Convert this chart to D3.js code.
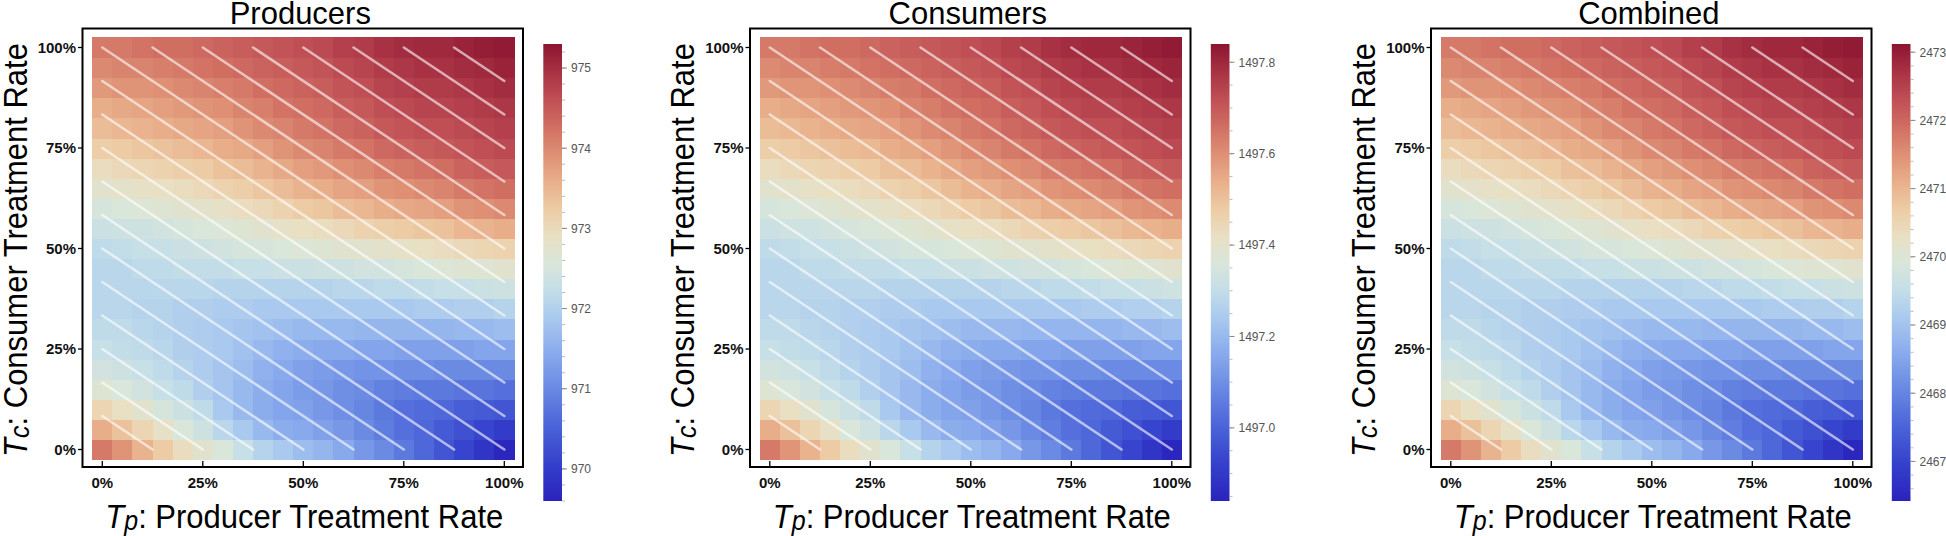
<!DOCTYPE html>
<html><head><meta charset="utf-8">
<script src="https://cdn.jsdelivr.net/npm/d3@7"></script>
<style>html,body{margin:0;padding:0;background:#fff;} svg{display:block;font-family:"Liberation Sans",Arial,sans-serif;}</style>
</head><body><svg id="chart" width="1946" height="536"></svg>
<script>
// Treatment-rate levels (columns = producer rate Tp, rows = consumer rate Tc)
const tpLevels = [0,0.05,0.1,0.15,0.2,0.25,0.3,0.35,0.4,0.45,0.5,0.55,0.6,0.65,0.7,0.75,0.8,0.85,0.9,0.95,1];
const tcLevels = [0,0.05,0.1,0.15,0.2,0.25,0.3,0.35,0.4,0.45,0.5,0.55,0.6,0.65,0.7,0.75,0.8,0.85,0.9,0.95,1];
const axisTicks = [0,0.25,0.5,0.75,1];
const axisTickLabels = ["0%","25%","50%","75%","100%"];
// iso-lines 3*Tc + 2*Tp = level
const budgetLevels = [0.25,0.5,0.75,1,1.25,1.5,1.75,2,2.25,2.5,2.75,3,3.25,3.5,3.75,4,4.25,4.5,4.75];
const panelTitles = ["Producers","Consumers","Combined"];

// rows: Tc = 0% ... 100%; columns: Tp = 0% ... 100%
const producersValues = [
[974.16,973.88,973.53,973.25,972.96,972.74,972.56,972.28,972.05,971.88,971.71,971.60,971.42,971.20,971.03,970.80,970.57,970.34,970.11,969.89,969.66],
[973.59,973.36,973.08,972.85,972.56,972.39,972.11,971.88,971.65,971.48,971.42,971.31,971.20,971.03,970.85,970.68,970.57,970.40,970.28,970.11,970.00],
[973.08,972.91,972.74,972.51,972.34,972.17,971.88,971.65,971.48,971.37,971.31,971.20,971.08,970.97,970.80,970.68,970.63,970.57,970.46,970.40,970.34],
[972.68,972.56,972.45,972.28,972.17,971.99,971.82,971.65,971.48,971.37,971.25,971.20,971.08,971.03,970.91,970.85,970.80,970.80,970.74,970.74,970.68],
[972.45,972.39,972.28,972.17,972.05,971.94,971.82,971.71,971.54,971.42,971.31,971.25,971.20,971.14,971.14,971.08,971.08,971.03,971.03,971.03,971.03],
[972.28,972.22,972.17,972.11,971.99,971.94,971.88,971.77,971.65,971.54,971.48,971.42,971.42,971.37,971.37,971.31,971.31,971.31,971.31,971.37,971.37],
[972.17,972.17,972.11,972.05,971.99,971.94,971.88,971.82,971.77,971.71,971.65,971.65,971.65,971.60,971.60,971.60,971.60,971.60,971.65,971.65,971.71],
[972.11,972.11,972.05,972.05,971.99,971.99,971.94,971.94,971.88,971.88,971.88,971.88,971.88,971.88,971.88,971.88,971.94,971.94,971.99,971.99,972.05],
[972.11,972.11,972.11,972.11,972.11,972.11,972.05,972.05,972.05,972.05,972.05,972.05,972.11,972.11,972.17,972.17,972.22,972.28,972.28,972.34,972.39],
[972.11,972.11,972.17,972.17,972.22,972.22,972.22,972.28,972.28,972.34,972.34,972.39,972.39,972.45,972.45,972.51,972.56,972.62,972.68,972.68,972.74],
[972.17,972.22,972.28,972.28,972.34,972.39,972.45,972.51,972.51,972.56,972.62,972.68,972.74,972.74,972.79,972.85,972.91,972.96,973.02,973.08,973.13],
[972.34,972.39,972.39,972.45,972.51,972.56,972.62,972.68,972.74,972.85,972.91,972.96,973.02,973.13,973.19,973.25,973.31,973.36,973.48,973.53,973.59],
[972.51,972.56,972.62,972.68,972.74,972.79,972.85,972.96,973.02,973.13,973.25,973.31,973.42,973.48,973.59,973.65,973.70,973.76,973.88,973.93,973.99],
[972.74,972.79,972.85,972.91,972.96,973.02,973.13,973.19,973.31,973.42,973.53,973.59,973.70,973.76,973.88,973.93,973.99,974.05,974.16,974.22,974.27],
[972.96,973.02,973.08,973.13,973.19,973.25,973.36,973.42,973.53,973.65,973.76,973.82,973.93,973.99,974.10,974.16,974.22,974.27,974.39,974.45,974.50],
[973.19,973.25,973.31,973.36,973.42,973.48,973.59,973.65,973.76,973.88,973.99,974.05,974.16,974.22,974.33,974.39,974.45,974.50,974.56,974.62,974.67],
[973.42,973.48,973.53,973.59,973.65,973.70,973.76,973.88,973.99,974.05,974.16,974.22,974.33,974.39,974.50,974.56,974.62,974.62,974.67,974.73,974.79],
[973.59,973.65,973.70,973.76,973.82,973.88,973.93,974.05,974.10,974.22,974.27,974.33,974.45,974.50,974.62,974.67,974.73,974.73,974.79,974.84,974.90],
[973.82,973.88,973.88,973.93,973.99,974.05,974.10,974.16,974.27,974.33,974.39,974.45,974.56,974.62,974.73,974.79,974.84,974.84,974.90,974.96,975.02],
[973.99,974.05,974.05,974.10,974.16,974.22,974.27,974.33,974.39,974.45,974.50,974.56,974.67,974.73,974.84,974.90,974.96,974.96,975.02,975.07,975.13],
[974.16,974.16,974.22,974.27,974.27,974.33,974.39,974.45,974.50,974.56,974.62,974.67,974.79,974.84,974.96,975.02,975.07,975.07,975.13,975.19,975.24]
];
const consumersValues = [
[1497.64,1497.59,1497.53,1497.48,1497.43,1497.39,1497.36,1497.31,1497.27,1497.24,1497.21,1497.19,1497.16,1497.12,1497.09,1497.05,1497.01,1496.97,1496.93,1496.89,1496.85],
[1497.54,1497.50,1497.45,1497.41,1497.36,1497.33,1497.28,1497.24,1497.20,1497.17,1497.16,1497.14,1497.12,1497.09,1497.06,1497.03,1497.01,1496.98,1496.96,1496.93,1496.91],
[1497.45,1497.42,1497.39,1497.35,1497.32,1497.29,1497.24,1497.20,1497.17,1497.15,1497.14,1497.12,1497.10,1497.08,1497.05,1497.03,1497.02,1497.01,1496.99,1496.98,1496.97],
[1497.38,1497.36,1497.34,1497.31,1497.29,1497.26,1497.23,1497.20,1497.17,1497.15,1497.13,1497.12,1497.10,1497.09,1497.07,1497.06,1497.05,1497.05,1497.04,1497.04,1497.03],
[1497.34,1497.33,1497.31,1497.29,1497.27,1497.25,1497.23,1497.21,1497.18,1497.16,1497.14,1497.13,1497.12,1497.11,1497.11,1497.10,1497.10,1497.09,1497.09,1497.09,1497.09],
[1497.31,1497.30,1497.29,1497.28,1497.26,1497.25,1497.24,1497.22,1497.20,1497.18,1497.17,1497.16,1497.16,1497.15,1497.15,1497.14,1497.14,1497.14,1497.14,1497.15,1497.15],
[1497.29,1497.29,1497.28,1497.27,1497.26,1497.25,1497.24,1497.23,1497.22,1497.21,1497.20,1497.20,1497.20,1497.19,1497.19,1497.19,1497.19,1497.19,1497.20,1497.20,1497.21],
[1497.28,1497.28,1497.27,1497.27,1497.26,1497.26,1497.25,1497.25,1497.24,1497.24,1497.24,1497.24,1497.24,1497.24,1497.24,1497.24,1497.25,1497.25,1497.26,1497.26,1497.27],
[1497.28,1497.28,1497.28,1497.28,1497.28,1497.28,1497.27,1497.27,1497.27,1497.27,1497.27,1497.27,1497.28,1497.28,1497.29,1497.29,1497.30,1497.31,1497.31,1497.32,1497.33],
[1497.28,1497.28,1497.29,1497.29,1497.30,1497.30,1497.30,1497.31,1497.31,1497.32,1497.32,1497.33,1497.33,1497.34,1497.34,1497.35,1497.36,1497.37,1497.38,1497.38,1497.39],
[1497.29,1497.30,1497.31,1497.31,1497.32,1497.33,1497.34,1497.35,1497.35,1497.36,1497.37,1497.38,1497.39,1497.39,1497.40,1497.41,1497.42,1497.43,1497.44,1497.45,1497.46],
[1497.32,1497.33,1497.33,1497.34,1497.35,1497.36,1497.37,1497.38,1497.39,1497.41,1497.42,1497.43,1497.44,1497.46,1497.47,1497.48,1497.49,1497.50,1497.52,1497.53,1497.54],
[1497.35,1497.36,1497.37,1497.38,1497.39,1497.40,1497.41,1497.43,1497.44,1497.46,1497.48,1497.49,1497.51,1497.52,1497.54,1497.55,1497.56,1497.57,1497.59,1497.60,1497.61],
[1497.39,1497.40,1497.41,1497.42,1497.43,1497.44,1497.46,1497.47,1497.49,1497.51,1497.53,1497.54,1497.56,1497.57,1497.59,1497.60,1497.61,1497.62,1497.64,1497.65,1497.66],
[1497.43,1497.44,1497.45,1497.46,1497.47,1497.48,1497.50,1497.51,1497.53,1497.55,1497.57,1497.58,1497.60,1497.61,1497.63,1497.64,1497.65,1497.66,1497.68,1497.69,1497.70],
[1497.47,1497.48,1497.49,1497.50,1497.51,1497.52,1497.54,1497.55,1497.57,1497.59,1497.61,1497.62,1497.64,1497.65,1497.67,1497.68,1497.69,1497.70,1497.71,1497.72,1497.73],
[1497.51,1497.52,1497.53,1497.54,1497.55,1497.56,1497.57,1497.59,1497.61,1497.62,1497.64,1497.65,1497.67,1497.68,1497.70,1497.71,1497.72,1497.72,1497.73,1497.74,1497.75],
[1497.54,1497.55,1497.56,1497.57,1497.58,1497.59,1497.60,1497.62,1497.63,1497.65,1497.66,1497.67,1497.69,1497.70,1497.72,1497.73,1497.74,1497.74,1497.75,1497.76,1497.77],
[1497.58,1497.59,1497.59,1497.60,1497.61,1497.62,1497.63,1497.64,1497.66,1497.67,1497.68,1497.69,1497.71,1497.72,1497.74,1497.75,1497.76,1497.76,1497.77,1497.78,1497.79],
[1497.61,1497.62,1497.62,1497.63,1497.64,1497.65,1497.66,1497.67,1497.68,1497.69,1497.70,1497.71,1497.73,1497.74,1497.76,1497.77,1497.78,1497.78,1497.79,1497.80,1497.81],
[1497.64,1497.64,1497.65,1497.66,1497.66,1497.67,1497.68,1497.69,1497.70,1497.71,1497.72,1497.73,1497.75,1497.76,1497.78,1497.79,1497.80,1497.80,1497.81,1497.82,1497.83]
];
const combinedValues = [
[2471.78,2471.45,2471.04,2470.71,2470.37,2470.11,2469.90,2469.57,2469.30,2469.10,2468.90,2468.77,2468.56,2468.30,2468.10,2467.83,2467.56,2467.29,2467.02,2466.76,2466.49],
[2471.11,2470.84,2470.51,2470.24,2469.90,2469.70,2469.37,2469.10,2468.83,2468.63,2468.56,2468.43,2468.30,2468.10,2467.89,2467.69,2467.56,2467.36,2467.22,2467.02,2466.89],
[2470.51,2470.31,2470.11,2469.84,2469.64,2469.44,2469.10,2468.83,2468.63,2468.50,2468.43,2468.30,2468.16,2468.03,2467.83,2467.69,2467.63,2467.56,2467.43,2467.36,2467.29],
[2470.04,2469.90,2469.77,2469.57,2469.44,2469.23,2469.03,2468.83,2468.63,2468.50,2468.36,2468.30,2468.16,2468.10,2467.96,2467.89,2467.83,2467.83,2467.76,2467.76,2467.69],
[2469.77,2469.70,2469.57,2469.44,2469.30,2469.17,2469.03,2468.90,2468.70,2468.56,2468.43,2468.36,2468.30,2468.23,2468.23,2468.16,2468.16,2468.10,2468.10,2468.10,2468.10],
[2469.57,2469.50,2469.44,2469.37,2469.23,2469.17,2469.10,2468.97,2468.83,2468.70,2468.63,2468.56,2468.56,2468.50,2468.50,2468.43,2468.43,2468.43,2468.43,2468.50,2468.50],
[2469.44,2469.44,2469.37,2469.30,2469.23,2469.17,2469.10,2469.03,2468.97,2468.90,2468.83,2468.83,2468.83,2468.77,2468.77,2468.77,2468.77,2468.77,2468.83,2468.83,2468.90],
[2469.37,2469.37,2469.30,2469.30,2469.23,2469.23,2469.17,2469.17,2469.10,2469.10,2469.10,2469.10,2469.10,2469.10,2469.10,2469.10,2469.17,2469.17,2469.23,2469.23,2469.30],
[2469.37,2469.37,2469.37,2469.37,2469.37,2469.37,2469.30,2469.30,2469.30,2469.30,2469.30,2469.30,2469.37,2469.37,2469.44,2469.44,2469.50,2469.57,2469.57,2469.64,2469.70],
[2469.37,2469.37,2469.44,2469.44,2469.50,2469.50,2469.50,2469.57,2469.57,2469.64,2469.64,2469.70,2469.70,2469.77,2469.77,2469.84,2469.90,2469.97,2470.04,2470.04,2470.11],
[2469.44,2469.50,2469.57,2469.57,2469.64,2469.70,2469.77,2469.84,2469.84,2469.90,2469.97,2470.04,2470.11,2470.11,2470.17,2470.24,2470.31,2470.37,2470.44,2470.51,2470.57],
[2469.64,2469.70,2469.70,2469.77,2469.84,2469.90,2469.97,2470.04,2470.11,2470.24,2470.31,2470.37,2470.44,2470.57,2470.64,2470.71,2470.78,2470.84,2470.98,2471.04,2471.11],
[2469.84,2469.90,2469.97,2470.04,2470.11,2470.17,2470.24,2470.37,2470.44,2470.57,2470.71,2470.78,2470.91,2470.98,2471.11,2471.18,2471.24,2471.31,2471.45,2471.51,2471.58],
[2470.11,2470.17,2470.24,2470.31,2470.37,2470.44,2470.57,2470.64,2470.78,2470.91,2471.04,2471.11,2471.24,2471.31,2471.45,2471.51,2471.58,2471.65,2471.78,2471.85,2471.91],
[2470.37,2470.44,2470.51,2470.57,2470.64,2470.71,2470.84,2470.91,2471.04,2471.18,2471.31,2471.38,2471.51,2471.58,2471.71,2471.78,2471.85,2471.91,2472.05,2472.12,2472.18],
[2470.64,2470.71,2470.78,2470.84,2470.91,2470.98,2471.11,2471.18,2471.31,2471.45,2471.58,2471.65,2471.78,2471.85,2471.98,2472.05,2472.12,2472.18,2472.25,2472.32,2472.38],
[2470.91,2470.98,2471.04,2471.11,2471.18,2471.24,2471.31,2471.45,2471.58,2471.65,2471.78,2471.85,2471.98,2472.05,2472.18,2472.25,2472.32,2472.32,2472.38,2472.45,2472.52],
[2471.11,2471.18,2471.24,2471.31,2471.38,2471.45,2471.51,2471.65,2471.71,2471.85,2471.91,2471.98,2472.12,2472.18,2472.32,2472.38,2472.45,2472.45,2472.52,2472.58,2472.65],
[2471.38,2471.45,2471.45,2471.51,2471.58,2471.65,2471.71,2471.78,2471.91,2471.98,2472.05,2472.12,2472.25,2472.32,2472.45,2472.52,2472.58,2472.58,2472.65,2472.72,2472.79],
[2471.58,2471.65,2471.65,2471.71,2471.78,2471.85,2471.91,2471.98,2472.05,2472.12,2472.18,2472.25,2472.38,2472.45,2472.58,2472.65,2472.72,2472.72,2472.79,2472.85,2472.92],
[2471.78,2471.78,2471.85,2471.91,2471.91,2471.98,2472.05,2472.12,2472.18,2472.25,2472.32,2472.38,2472.52,2472.58,2472.72,2472.79,2472.85,2472.85,2472.92,2472.99,2473.05]
];
// colour-bar ranges and ticks
const producersRange = [969.6, 975.3];
const consumersRange = [1496.84, 1497.84];
const combinedRange = [2466.42, 2473.12];
const producersBarTicks = [970,971,972,973,974,975];
const consumersBarTicks = [1497.0,1497.2,1497.4,1497.6,1497.8];
const combinedBarTicks = [2467,2468,2469,2470,2471,2472,2473];

// colour map (blue -> pale -> red)
const cmapStops = [0,0.08,0.16,0.24,0.32,0.40,0.46,0.52,0.58,0.64,0.70,0.76,0.82,0.88,0.94,1];
const cmapColors = ["#2a22bc","#3440cb","#4a62d8","#6786e2","#88a9ec","#a9c9ef","#c3dde8","#d9e6da","#e9dfc3","#edcba4","#e8ae8a","#de8f74","#d06e62","#bf4e55","#a83243","#8c1531"];

const svg = d3.select("#chart");
const defs = svg.append("defs");

const panels = [
  {title: panelTitles[0], values: producersValues, range: producersRange, ticks: producersBarTicks, minorStep: 0.2, fmt: d3.format("d"), dx: 0},
  {title: panelTitles[1], values: consumersValues, range: consumersRange, ticks: consumersBarTicks, minorStep: 0.05, fmt: d3.format(".1f"), dx: 667.5},
  {title: panelTitles[2], values: combinedValues, range: combinedRange, ticks: combinedBarTicks, minorStep: 0.2, fmt: d3.format("d"), dx: 1348.5}
];

panels.forEach((P, k) => {
  const g = svg.append("g").attr("transform", `translate(${P.dx},0)`);
  const x = d3.scaleLinear().domain([0,1]).range([102.3, 504.3]);
  const y = d3.scaleLinear().domain([0,1]).range([449.5, 47.5]);
  const cw = x(tpLevels[1]) - x(tpLevels[0]);
  const ch = y(tcLevels[0]) - y(tcLevels[1]);
  const [lo, hi] = P.range;
  const color = d3.scaleLinear()
    .domain(cmapStops.map(s => lo + s*(hi-lo)))
    .range(cmapColors).interpolate(d3.interpolateRgb).clamp(true);

  const cells = [];
  P.values.forEach((row, i) => row.forEach((v, j) => cells.push({tp: tpLevels[j], tc: tcLevels[i], v})));
  g.append("g").selectAll("rect").data(cells).join("rect")
    .attr("x", d => x(d.tp) - cw/2)
    .attr("y", d => y(d.tc) - ch/2)
    .attr("width", cw + 0.6)
    .attr("height", ch + 0.6)
    .attr("fill", d => color(d.v))
    .attr("shape-rendering", "crispEdges");

  // iso-lines
  g.append("g").selectAll("line").data(budgetLevels).join("line")
    .attr("x1", b => x(b <= 3 ? 0 : (b-3)/2))
    .attr("y1", b => y(b <= 3 ? b/3 : 1))
    .attr("x2", b => x(b <= 2 ? b/2 : 1))
    .attr("y2", b => y(b <= 2 ? 0 : (b-2)/3))
    .attr("stroke", "#ffffff").attr("stroke-opacity", 0.6)
    .attr("stroke-width", 2.6).attr("stroke-linecap", "round");

  // frame
  g.append("rect").attr("x", 82.5).attr("y", 28.5).attr("width", 440.5).attr("height", 438.5)
    .attr("fill", "none").attr("stroke", "#000").attr("stroke-width", 2);

  // x ticks + labels
  g.append("g").selectAll("line").data(axisTicks).join("line")
    .attr("x1", d => x(d)).attr("x2", d => x(d)).attr("y1", 466.5).attr("y2", 461)
    .attr("stroke", "#000").attr("stroke-width", 1.3);
  g.append("g").selectAll("text").data(axisTicks).join("text")
    .attr("x", d => x(d)).attr("y", 487.5).attr("text-anchor", "middle")
    .attr("font-size", 15).attr("font-weight", "bold").attr("fill", "#111")
    .text((d, i) => axisTickLabels[i]);
  // y ticks + labels
  g.append("g").selectAll("line").data(axisTicks).join("line")
    .attr("x1", 78).attr("x2", 83).attr("y1", d => y(d)).attr("y2", d => y(d))
    .attr("stroke", "#000").attr("stroke-width", 1.3);
  g.append("g").selectAll("text").data(axisTicks).join("text")
    .attr("x", 76).attr("y", d => y(d)).attr("dy", "0.36em").attr("text-anchor", "end")
    .attr("font-size", 15).attr("font-weight", "bold").attr("fill", "#111")
    .text((d, i) => axisTickLabels[i]);

  // title
  const cx = (x(0) + x(1)) / 2;
  g.append("g").attr("transform", `translate(${cx - 3},24) scale(1,1.04)`)
    .append("text").attr("text-anchor", "middle").attr("font-size", 31).attr("fill", "#000")
    .text(P.title);

  // x-axis title
  const xt = g.append("g").attr("transform", `translate(${cx + 1},528) scale(1,1.08)`)
    .append("text").attr("text-anchor", "middle").attr("font-size", 31).attr("fill", "#000");
  xt.append("tspan").attr("font-style", "italic").text("T");
  xt.append("tspan").attr("font-style", "italic").attr("font-size", 25).attr("dy", 2).text("p");
  xt.append("tspan").attr("dy", -2).text(": Producer Treatment Rate");

  // y-axis title
  const yt = g.append("g").attr("transform", `translate(26.5,250) rotate(-90) scale(1,1.08)`)
    .append("text").attr("text-anchor", "middle").attr("font-size", 31).attr("fill", "#000");
  yt.append("tspan").attr("font-style", "italic").text("T");
  yt.append("tspan").attr("font-style", "italic").attr("font-size", 25).attr("dy", 2).text("c");
  yt.append("tspan").attr("dy", -2).text(": Consumer Treatment Rate");

  // colour bar
  const gid = "grad" + k;
  const grad = defs.append("linearGradient").attr("id", gid)
    .attr("x1", 0).attr("y1", 1).attr("x2", 0).attr("y2", 0);
  d3.range(0, 1.0001, 0.02).forEach(s => {
    grad.append("stop").attr("offset", s).attr("stop-color", color(lo + s*(hi-lo)));
  });
  const bx = 543.3, bw = 18.7, by0 = 44, by1 = 501;
  g.append("rect").attr("x", bx).attr("y", by0).attr("width", bw).attr("height", by1 - by0)
    .attr("fill", `url(#${gid})`);
  const yb = d3.scaleLinear().domain(P.range).range([by1, by0]);
  const minor = d3.range(Math.ceil(lo / P.minorStep) * P.minorStep, hi, P.minorStep);
  g.append("g").selectAll("line").data(minor).join("line")
    .attr("x1", bx + bw).attr("x2", bx + bw + 3)
    .attr("y1", d => yb(d)).attr("y2", d => yb(d))
    .attr("stroke", "#aaa").attr("stroke-width", 0.8);
  g.append("g").selectAll("line").data(P.ticks).join("line")
    .attr("x1", bx + bw).attr("x2", bx + bw + 5)
    .attr("y1", d => yb(d)).attr("y2", d => yb(d))
    .attr("stroke", "#888").attr("stroke-width", 1);
  g.append("g").selectAll("text").data(P.ticks).join("text")
    .attr("x", bx + bw + 9).attr("y", d => yb(d)).attr("dy", "0.36em")
    .attr("font-size", 12).attr("fill", "#555")
    .text(d => P.fmt(d));
});
</script>
</body></html>
